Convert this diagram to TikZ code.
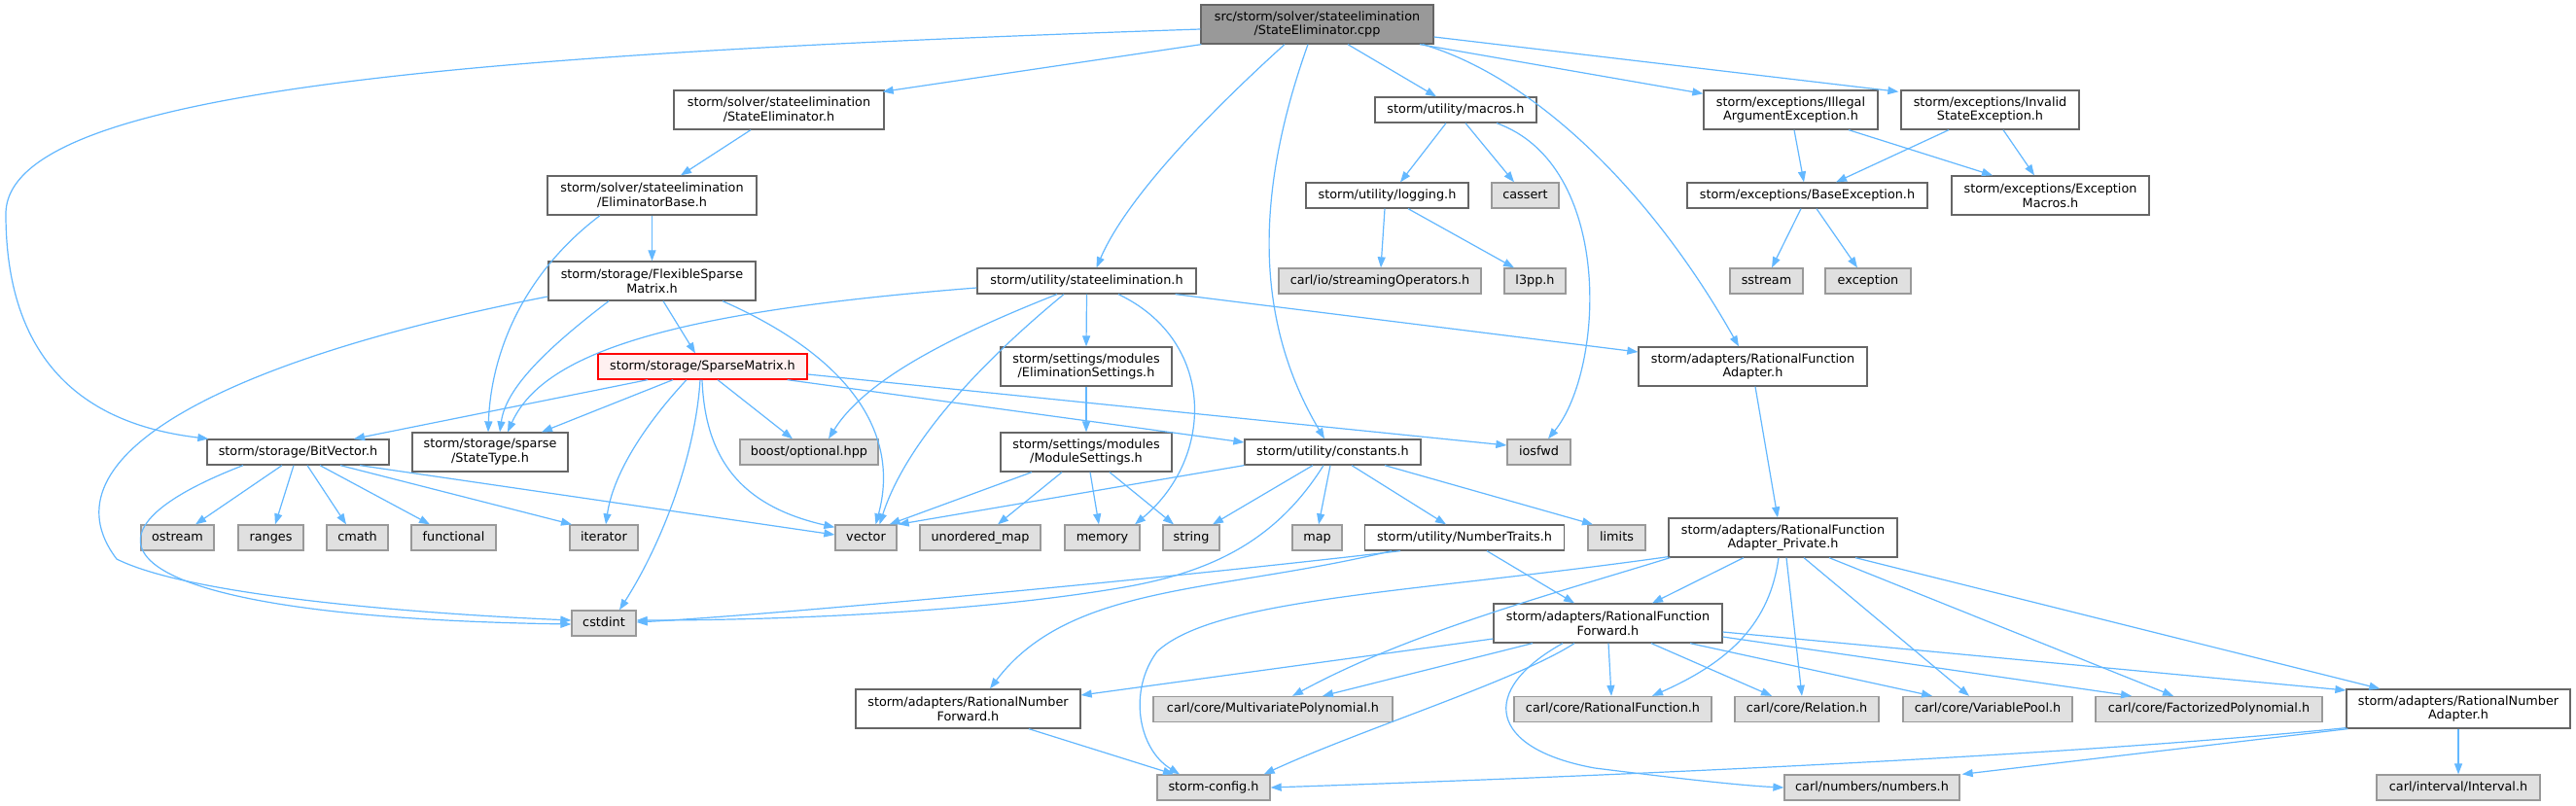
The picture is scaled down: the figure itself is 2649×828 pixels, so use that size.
\documentclass[tikz,border=0pt]{standalone}
\usepackage{fontspec}
\setmainfont{DejaVu Sans}
\usetikzlibrary{arrows.meta,calc}
\definecolor{edgec}{HTML}{63B8FF}
\definecolor{wborder}{HTML}{666666}
\definecolor{gborder}{HTML}{999999}
\definecolor{gfill}{HTML}{E0E0E0}
\definecolor{mainfill}{HTML}{999999}
\definecolor{redfill}{HTML}{FFF0F0}
\definecolor{redline}{HTML}{FF0000}
\tikzset{
  nb/.style={draw, line width=1.3pt, inner sep=0pt, font=\fontsize{12.8}{14.7}\selectfont},
  wbox/.style={nb, draw=wborder, fill=white},
  gbox/.style={nb, draw=gborder, fill=gfill},
  mbox/.style={nb, draw=wborder, fill=mainfill},
  rbox/.style={nb, draw=redline, fill=redfill},
  one/.style={text height=9.5pt, text depth=2.7pt, minimum height=26pt},
  two/.style={align=center, minimum height=40pt},
  dep/.style={draw=edgec, line width=1.2pt, -{Triangle[length=11pt,width=8pt]}}
}
\begin{document}
\begin{tikzpicture}[x=1pt,y=-1pt]
\fill[white] (0,0) rectangle (2649,828);
\useasboundingbox (0,0) rectangle (2649,828);

\node[mbox,two,minimum width=239pt] (cpp) at (1354.5,25) {src/storm/solver/stateelimination\\/StateEliminator.cpp};
\node[wbox,two,minimum width=216pt] (seh) at (801,113) {storm/solver/stateelimination\\/StateEliminator.h};
\node[wbox,two,minimum width=215pt] (elb) at (670.5,201) {storm/solver/stateelimination\\/EliminatorBase.h};
\node[wbox,two,minimum width=213pt] (fsm) at (670.5,289) {storm/storage/FlexibleSparse\\Matrix.h};
\node[rbox,one,minimum width=215pt] (spm) at (722.5,377) {storm/storage/SparseMatrix.h};
\node[wbox,one,minimum width=187pt] (bv) at (306.5,465) {storm/storage/BitVector.h};
\node[wbox,two,minimum width=160pt] (st) at (504,465) {storm/storage/sparse\\/StateType.h};
\node[gbox,one,minimum width=142pt] (bo) at (832,465) {boost/optional.hpp};
\node[gbox,one,minimum width=75pt] (ostream) at (182.5,553) {ostream};
\node[gbox,one,minimum width=67pt] (ranges) at (278.5,553) {ranges};
\node[gbox,one,minimum width=63pt] (cmath) at (367.5,553) {cmath};
\node[gbox,one,minimum width=87pt] (functional) at (466.5,553) {functional};
\node[gbox,one,minimum width=70pt] (iterator) at (621,553) {iterator};
\node[gbox,one,minimum width=63pt] (vector) at (890.5,553) {vector};
\node[gbox,one,minimum width=66pt] (cstdint) at (621,641) {cstdint};
\node[wbox,one,minimum width=225pt] (se) at (1117.5,289) {storm/utility/stateelimination.h};
\node[wbox,two,minimum width=176pt] (es) at (1117,377) {storm/settings/modules\\/EliminationSettings.h};
\node[wbox,two,minimum width=176pt] (ms) at (1117,465) {storm/settings/modules\\/ModuleSettings.h};
\node[wbox,one,minimum width=181pt] (co) at (1370.5,465) {storm/utility/constants.h};
\node[gbox,one,minimum width=65pt] (iosfwd) at (1582.5,465) {iosfwd};
\node[gbox,one,minimum width=124pt] (umap) at (1008,553) {unordered\_map};
\node[gbox,one,minimum width=77pt] (memory) at (1133.5,553) {memory};
\node[gbox,one,minimum width=58pt] (string) at (1225,553) {string};
\node[gbox,one,minimum width=51pt] (map) at (1354.5,553) {map};
\node[wbox,one,minimum width=205pt] (nt) at (1506,553) {storm/utility/NumberTraits.h};
\node[gbox,one,minimum width=59pt] (limits) at (1662.5,553) {limits};
\node[wbox,one,minimum width=166pt] (macros) at (1497,113) {storm/utility/macros.h};
\node[wbox,one,minimum width=167pt] (logging) at (1426.5,201) {storm/utility/logging.h};
\node[gbox,one,minimum width=69pt] (cassert) at (1568.5,201) {cassert};
\node[gbox,one,minimum width=208pt] (so) at (1419,289) {carl/io/streamingOperators.h};
\node[gbox,one,minimum width=63pt] (l3pp) at (1578.5,289) {l3pp.h};
\node[wbox,two,minimum width=179pt] (iae) at (1841.5,113) {storm/exceptions/Illegal\\ArgumentException.h};
\node[wbox,two,minimum width=183pt] (ise) at (2046.5,113) {storm/exceptions/Invalid\\StateException.h};
\node[wbox,one,minimum width=247pt] (be) at (1858.5,201) {storm/exceptions/BaseException.h};
\node[wbox,two,minimum width=203pt] (em) at (2108.5,201) {storm/exceptions/Exception\\Macros.h};
\node[gbox,one,minimum width=75pt] (sstream) at (1816.5,289) {sstream};
\node[gbox,one,minimum width=88pt] (exception) at (1921,289) {exception};
\node[wbox,two,minimum width=235pt] (rfa) at (1802.5,377) {storm/adapters/RationalFunction\\Adapter.h};
\node[wbox,two,minimum width=235pt] (rfap) at (1833.5,553) {storm/adapters/RationalFunction\\Adapter\_Private.h};
\node[wbox,two,minimum width=235pt] (rff) at (1653.5,641) {storm/adapters/RationalFunction\\Forward.h};
\node[wbox,two,minimum width=231pt] (rnf) at (995.5,729) {storm/adapters/RationalNumber\\Forward.h};
\node[gbox,one,minimum width=246pt] (mp) at (1309,729.5) {carl/core/MultivariatePolynomial.h};
\node[gbox,one,minimum width=203pt] (rf) at (1658.5,729.5) {carl/core/RationalFunction.h};
\node[gbox,one,minimum width=148pt] (rel) at (1858,729.5) {carl/core/Relation.h};
\node[gbox,one,minimum width=174pt] (vp) at (2044,729.5) {carl/core/VariablePool.h};
\node[gbox,one,minimum width=233pt] (fp) at (2271.5,729.5) {carl/core/FactorizedPolynomial.h};
\node[wbox,two,minimum width=230pt] (rna) at (2528,729) {storm/adapters/RationalNumber\\Adapter.h};
\node[gbox,one,minimum width=116pt] (sc) at (1248,810) {storm-config.h};
\node[gbox,one,minimum width=180pt] (num) at (1925,810) {carl/numbers/numbers.h};
\node[gbox,one,minimum width=168pt] (interval) at (2528,810) {carl/interval/Interval.h};

% cpp
\draw[dep] ($(cpp.south west)+(1,0)$) -- ($(seh.north east)+(-2,2)$);
\draw[dep] ($(cpp.west)+(0,5)$) .. controls (500,55) and (6,90) .. (6,220) .. controls (6,400) and (120,440) .. ($(bv.north west)+(2,0)$);
\draw[dep] ($(cpp.south)+(-33.5,0)$) .. controls (1250,110) and (1160,200) .. ($(se.north)+(10,0)$);
\draw[dep] ($(cpp.south)+(-9.5,0)$) .. controls (1290,200) and (1290,330) .. ($(co.north)+(-8.5,0)$);
\draw[dep] ($(cpp.south)+(31.5,0)$) -- ($(macros.north)+(-20,0)$);
\draw[dep] ($(cpp.south)+(108.5,0)$) .. controls (1580,80) and (1700,200) .. ($(rfa.north)+(-14.5,0)$);
\draw[dep] ($(cpp.south)+(105.5,0)$) -- ($(iae.north west)+(0,4)$);
\draw[dep] ($(cpp.east)+(0,13)$) -- ($(ise.north west)+(-2,2)$);
% solver chain
\draw[dep] ($(seh.south)+(-29,0)$) -- ($(elb.north)+(29.5,0)$);
\draw[dep] (elb.south) -- (fsm.north);
\draw[dep] ($(elb.south)+(-53.5,0)$) .. controls (540,280) and (505,360) .. ($(st.north)+(-2,0)$);
\draw[dep] ($(fsm.south)+(11.5,0)$) -- ($(spm.north)+(-7.5,0)$);
\draw[dep] ($(fsm.south)+(-44.5,0)$) .. controls (560,360) and (520,400) .. ($(st.north)+(10,0)$);
\draw[dep] ($(fsm.south)+(72.5,0)$) .. controls (880,370) and (925,450) .. ($(vector.north)+(10,0)$);
\draw[dep] ($(fsm.west)+(0,16)$) .. controls (230,370) and (40,470) .. (120,575) .. controls (200,615) and (450,632) .. ($(cstdint.west)+(0,-3)$);
% BitVector
\draw[dep] ($(bv.south)+(-56.5,0)$) .. controls (40,560) and (140,635) .. ($(cstdint.west)+(0,1)$);
\draw[dep] ($(bv.south)+(-16.5,0)$) -- ($(ostream.north)+(18.5,0)$);
\draw[dep] ($(bv.south)+(-4.5,0)$) -- ($(ranges.north)+(4.5,0)$);
\draw[dep] ($(bv.south)+(9.5,0)$) -- ($(cmath.north)+(-11.5,0)$);
\draw[dep] ($(bv.south)+(22.5,0)$) -- ($(functional.north)+(-24.5,0)$);
\draw[dep] ($(bv.south)+(43.5,0)$) -- ($(iterator.north)+(-33,0)$);
\draw[dep] ($(bv.south)+(63.5,0)$) -- ($(vector.west)+(0,-3)$);
% SparseMatrix
\draw[dep] ($(spm.south)+(-56.5,0)$) -- ($(bv.north)+(57.5,0)$);
\draw[dep] ($(spm.south)+(-30.5,0)$) -- ($(st.north)+(53,0)$);
\draw[dep] ($(spm.south)+(-16.5,0)$) .. controls (660,440) and (630,490) .. ($(iterator.north)+(2,0)$);
\draw[dep] ($(spm.south)+(-2.5,0)$) .. controls (715,470) and (680,560) .. ($(cstdint.north)+(16,0)$);
\draw[dep] ($(spm.south)+(-0.5,0)$) .. controls (725,470) and (760,520) .. ($(vector.north west)+(0,3)$);
\draw[dep] ($(spm.south)+(15.5,0)$) -- ($(bo.north)+(-17,0)$);
\draw[dep] ($(spm.south east)+(-21,0)$) -- ($(co.west)+(0,-10)$);
\draw[dep] ($(spm.east)+(0,8)$) -- ($(iosfwd.west)+(0,-7)$);
% stateelimination.h
\draw[dep] ($(se.west)+(0,7)$) .. controls (700,320) and (560,360) .. ($(st.north)+(18,0)$);
\draw[dep] ($(se.south)+(-30.5,0)$) .. controls (980,345) and (890,390) .. ($(bo.north)+(20,0)$);
\draw[dep] ($(se.south)+(-23.5,0)$) .. controls (1000,380) and (930,460) .. ($(vector.north)+(14,0)$);
\draw[dep] ($(se.south)+(32.5,0)$) .. controls (1250,350) and (1250,470) .. ($(memory.north)+(33.5,0)$);
\draw[dep] (se.south) -- (es.north);
\draw[dep] ($(se.south east)+(-22,0)$) -- ($(rfa.west)+(0,-15)$);
% settings
\draw[dep] (es.south) -- (ms.north);
\draw[dep] ($(ms.south)+(-56,0)$) -- ($(vector.north east)+(-8,0)$);
\draw[dep] ($(ms.south)+(-25,0)$) -- ($(umap.north)+(18,0)$);
\draw[dep] ($(ms.south)+(4,0)$) -- ($(memory.north)+(-3.5,0)$);
\draw[dep] ($(ms.south)+(24,0)$) -- ($(string.north)+(-18,0)$);
% constants
\draw[dep] (co.south west) -- ($(vector.north east)+(1,0)$);
\draw[dep] ($(co.south)+(-20.5,0)$) -- ($(string.north)+(22,0)$);
\draw[dep] ($(co.south)+(-9.5,0)$) .. controls (1310,560) and (1240,590) .. (1150,605) .. controls (1000,630) and (800,638) .. ($(cstdint.east)+(0,-3)$);
\draw[dep] ($(co.south)+(-2.5,0)$) -- ($(map.north)+(1.5,0)$);
\draw[dep] ($(co.south)+(19.5,0)$) -- ($(nt.north)+(-19,0)$);
\draw[dep] ($(co.south)+(53.5,0)$) -- ($(limits.north)+(-24.5,0)$);
% NumberTraits
\draw[dep] ($(nt.south)+(-66,0)$) .. controls (1200,595) and (800,632) .. ($(cstdint.east)+(0,-1)$);
\draw[dep] ($(nt.south)+(-75,0)$) .. controls (1250,610) and (1100,600) .. ($(rnf.north)+(22.5,0)$);
\draw[dep] ($(nt.south)+(23,0)$) -- ($(rff.north)+(-34.5,0)$);
% macros, logging
\draw[dep] ($(macros.south)+(-10,0)$) -- ($(logging.north)+(13.5,0)$);
\draw[dep] ($(macros.south)+(10,0)$) -- ($(cassert.north)+(-11.5,0)$);
\draw[dep] ($(macros.south)+(42,0)$) .. controls (1660,170) and (1650,380) .. ($(iosfwd.north)+(9.5,0)$);
\draw[dep] ($(logging.south)+(-2.5,0)$) -- ($(so.north)+(1,0)$);
\draw[dep] ($(logging.south)+(21.5,0)$) -- ($(l3pp.north)+(-21.5,0)$);
% exceptions
\draw[dep] ($(iae.south)+(3.5,0)$) -- ($(be.north)+(-3.5,0)$);
\draw[dep] ($(iae.south)+(59.5,0)$) -- ($(em.north)+(-59.5,0)$);
\draw[dep] ($(ise.south)+(-42.5,0)$) -- ($(be.north)+(29.5,0)$);
\draw[dep] ($(ise.south)+(13.5,0)$) -- ($(em.north)+(-16.5,0)$);
\draw[dep] ($(be.south)+(-6.5,0)$) -- ($(sstream.north)+(5.5,0)$);
\draw[dep] ($(be.south)+(9.5,0)$) -- ($(exception.north)+(-11,0)$);
% adapters
\draw[dep] ($(rfa.south)+(2.5,0)$) -- ($(rfap.north)+(-5.5,0)$);
\draw[dep] ($(rfap.south)+(-40.5,0)$) -- ($(rff.north)+(45.5,0)$);
\draw[dep] ($(rfap.south west)+(0,-1)$) .. controls (1450,610) and (1250,615) .. (1190,670) .. controls (1160,710) and (1170,770) .. ($(sc.north)+(-35,0)$);
\draw[dep] ($(rfap.south west)+(2,0)$) .. controls (1600,610) and (1450,650) .. ($(mp.north)+(20,0)$);
\draw[dep] ($(rfap.south)+(-4.5,0)$) .. controls (1820,640) and (1780,680) .. ($(rf.north)+(40.5,0)$);
\draw[dep] ($(rfap.south)+(3.5,0)$) -- ($(rel.north)+(-5,0)$);
\draw[dep] ($(rfap.south)+(21.5,0)$) -- ($(vp.north)+(-19,0)$);
\draw[dep] ($(rfap.south)+(47.5,0)$) -- ($(fp.north)+(-36.5,0)$);
\draw[dep] ($(rfap.south)+(74.5,0)$) -- ($(rna.north west)+(35,0)$);
\draw[dep] ($(rff.west)+(0,16)$) -- ($(rnf.east)+(0,-14)$);
\draw[dep] ($(rff.south)+(-77.5,0)$) -- ($(mp.north)+(51,0)$);
\draw[dep] ($(rff.south)+(-34.5,0)$) .. controls (1560,700) and (1400,750) .. ($(sc.north east)+(-7,0)$);
\draw[dep] ($(rff.south)+(-46.5,0)$) .. controls (1520,710) and (1530,770) .. (1640,790) .. controls (1720,800) and (1790,808) .. (num.west);
\draw[dep] ($(rff.south)+(0.5,0)$) -- ($(rf.north)+(-1.5,0)$);
\draw[dep] ($(rff.south)+(44.5,0)$) -- ($(rel.north)+(-36,0)$);
\draw[dep] ($(rff.south)+(84.5,0)$) -- ($(vp.north)+(-57,0)$);
\draw[dep] ($(rff.east)+(0,14)$) -- ($(fp.north)+(-79.5,0)$);
\draw[dep] ($(rff.east)+(0,9)$) -- ($(rna.west)+(0,-19)$);
\draw[dep] ($(rnf.south)+(62.5,0)$) -- ($(sc.north)+(-41,0)$);
\draw[dep] ($(rna.south west)+(0,-1)$) .. controls (2100,780) and (1600,800) .. (sc.east);
\draw[dep] ($(rna.south west)+(2,0)$) -- ($(num.north east)+(2,0)$);
\draw[dep] (rna.south) -- (interval.north);
\end{tikzpicture}
\end{document}
